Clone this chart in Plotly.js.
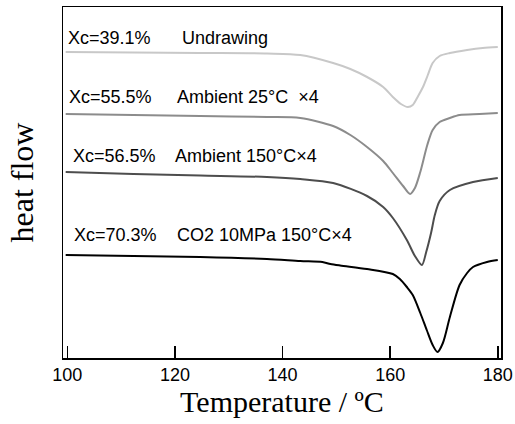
<!DOCTYPE html>
<html>
<head>
<meta charset="utf-8">
<script src="https://cdn.plot.ly/plotly-3.0.1.min.js"></script>
<style>html,body{margin:0;padding:0;background:#fff;}#chart{width:515px;height:424px;}</style>
</head>
<body>
<div id="chart"></div>
<script>
// Temperature (°C) and heat flow (arbitrary units)
const tUndrawing = [99.7,112.3,124.7,137.1,143.3,149.4,152.6,155.7,158.7,160.5,162.0,163.3,164.2,165.2,166.1,167.0,167.9,169.2,171.1,174.3,177.2,180.0];
const hUndrawing = [308,307.5,307,306.5,305,297,291,283,273,263,256,253,255,264,273,285,297,304,307,310,312,313];

const tAmb25 = [99.7,112.3,124.7,137.1,143.3,149.4,152.6,155.7,158.7,160.5,162.4,163.7,164.6,165.6,166.9,167.9,169.2,171.1,172.9,176.6,180.0];
const hAmb25 = [246,245,244,243,242,234,225,213,199,187,174,166,172,188,215,230,238,242,245,246,247];

const tAmb150 = [99.7,112.3,124.7,137.1,143.3,149.4,155.7,158.7,160.5,163.1,164.6,165.9,166.7,167.6,168.3,169.2,171.1,175.4,180.0];
const hAmb150 = [188,186,184.5,183,181,177,164,153,142,120,104,95,108,127,145,159,170,178,182];

const tCO2 = [99.7,112.3,124.7,137.1,143.3,147.4,148.9,150.7,155.7,160.5,161.8,163.1,164.2,165.6,166.8,167.9,168.8,169.8,171.1,172.9,174.3,175.4,178.0,180.0];
const hCO2 = [105,104,103,101,99,98,96,94.5,91,86,81,73,65,47,30,15,8,17,43,75,87,93,98,100];

const xcLabels = ["Xc=39.1%","Xc=55.5%","Xc=56.5%","Xc=70.3%"];
const condLabels = ["Undrawing","Ambient 25°C  ×4","Ambient 150°C×4","CO2 10MPa 150°C×4"];
const xTicks = [100,120,140,160,180];

const colors = ["#c8c8c8","#8c8c8c","#4d4d4d","#000000"];
const series = [[tUndrawing,hUndrawing],[tAmb25,hAmb25],[tAmb150,hAmb150],[tCO2,hCO2]];

const traces = series.map((s,i)=>({
  x: s[0], y: s[1], type:'scatter', mode:'lines',
  line:{color:colors[i], width:2, shape:'spline', smoothing:0.8},
  hoverinfo:'skip', showlegend:false
}));

// label positions (data coords)
const labY = [322,263,204,125];
const xcX = [99.8,99.95,100.65,100.85];
const condX = [121.0,120.1,119.7,120.1];
const annots = [];
for(let i=0;i<4;i++){
  annots.push({x:xcX[i], y:labY[i], xref:'x', yref:'y', text:xcLabels[i], showarrow:false, xanchor:'left', yanchor:'middle', font:{family:'Liberation Sans, Arial, sans-serif', size:18, color:'#000'}});
  annots.push({x:condX[i], y:labY[i], xref:'x', yref:'y', text:condLabels[i], showarrow:false, xanchor:'left', yanchor:'middle', font:{family:'Liberation Sans, Arial, sans-serif', size:18, color:'#000'}});
}

const layout = {
  width:515, height:424,
  margin:{l:63, r:14, t:7, b:66},
  paper_bgcolor:'#fff', plot_bgcolor:'#fff',
  xaxis:{
    range:[99.2,180.6], tickvals:xTicks, ticktext:xTicks.map(String),
    ticks:'inside', ticklen:12, tickwidth:1.5, tickcolor:'#000',
    showline:true, linecolor:'#000', linewidth:1.5, mirror:true,
    showgrid:false, zeroline:false,
    tickfont:{family:'Liberation Sans, Arial, sans-serif', size:18, color:'#000'},
    title:{text:'Temperature / ºC', font:{family:'Liberation Serif, Times New Roman, serif', size:30, color:'#000'}, standoff:2}
  },
  yaxis:{
    range:[2,353], showticklabels:false, ticks:'',
    showline:true, linecolor:'#000', linewidth:1.5, mirror:true,
    showgrid:false, zeroline:false,
    title:{text:'heat flow', font:{family:'Liberation Serif, Times New Roman, serif', size:32, color:'#000'}, standoff:18}
  },
  annotations:annots
};

Plotly.newPlot('chart', traces, layout, {staticPlot:true, displayModeBar:false});
</script>
</body>
</html>
